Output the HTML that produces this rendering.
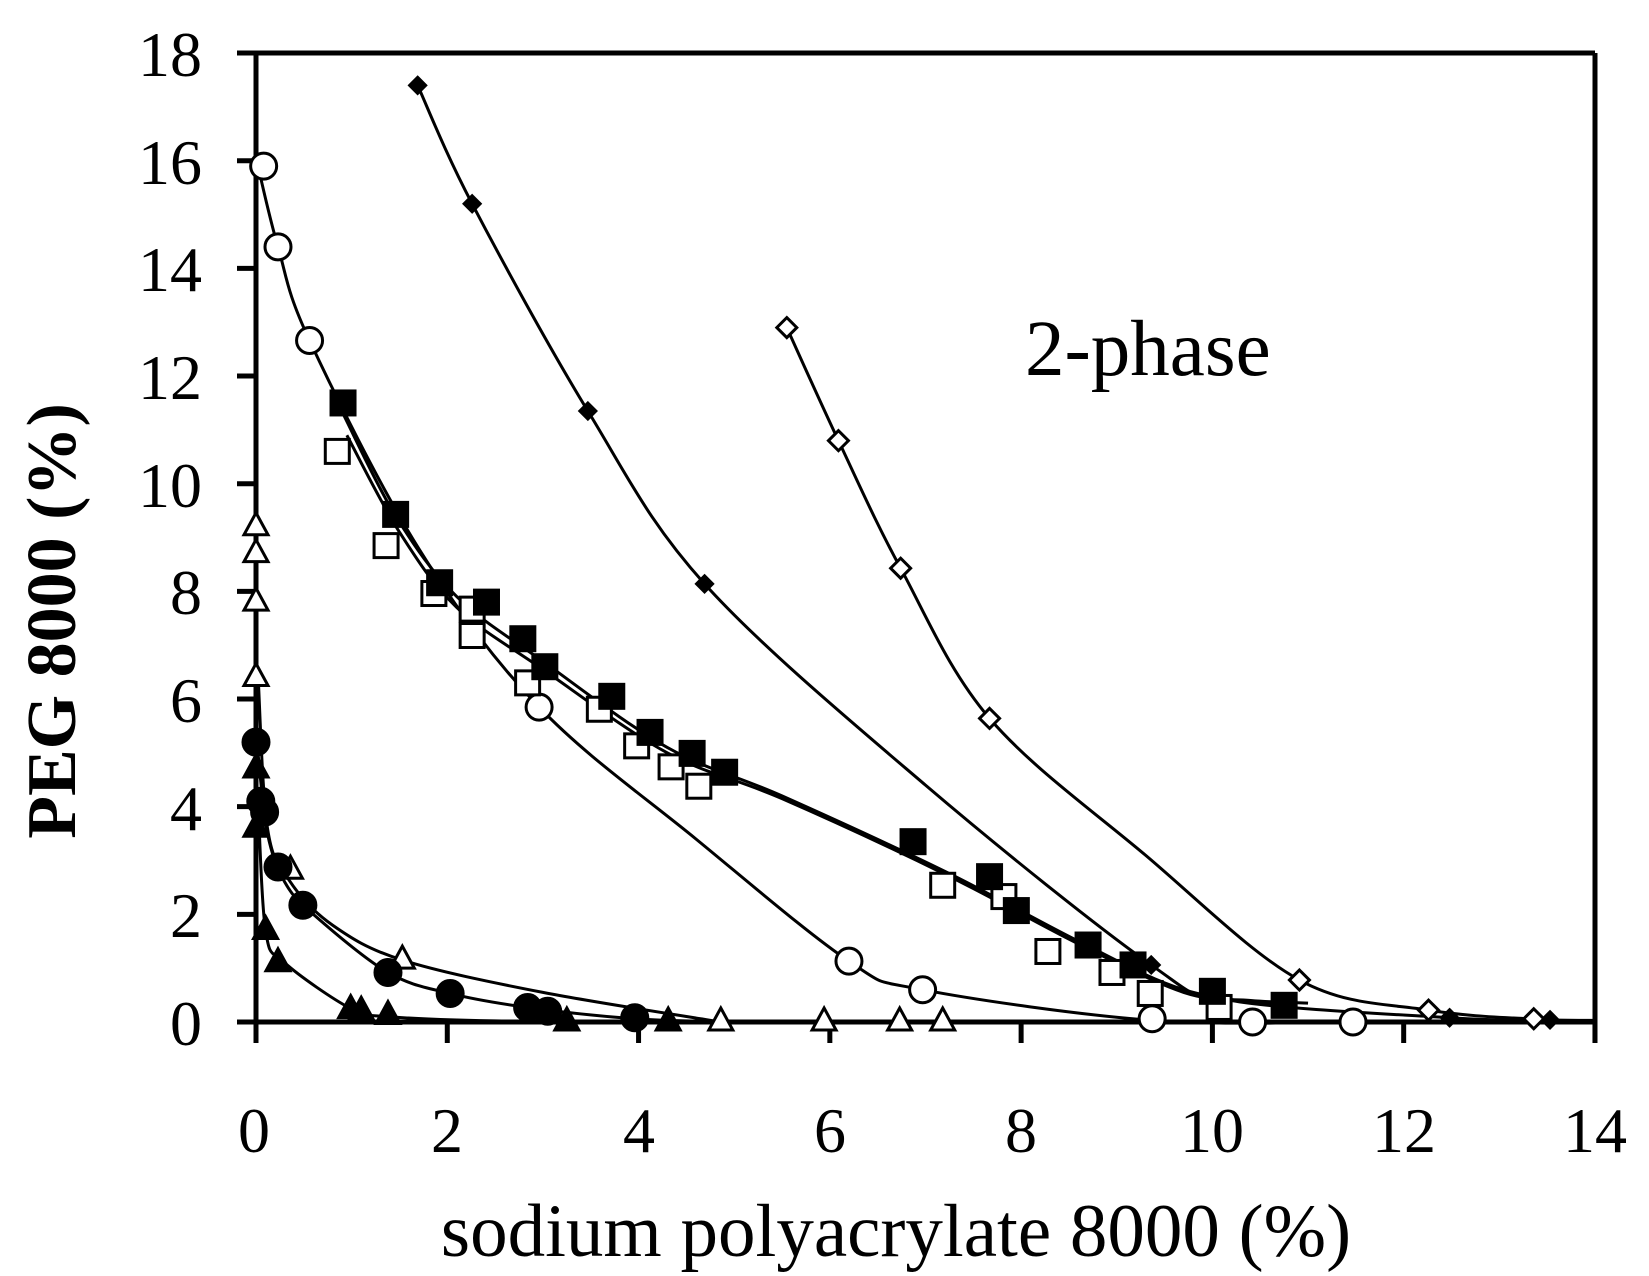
<!DOCTYPE html>
<html><head><meta charset="utf-8"><style>
html,body{margin:0;padding:0;background:#fff;}
svg{display:block;font-family:"Liberation Serif",serif;}
</style></head><body>
<svg id="s" width="1649" height="1276" viewBox="0 0 1649 1276" xmlns="http://www.w3.org/2000/svg">
<rect x="0" y="0" width="1649" height="1276" fill="#fff"/>
<g font-size="64" fill="#000" text-anchor="end">
<text x="202" y="76">18</text>
<text x="202" y="184">16</text>
<text x="202" y="291">14</text>
<text x="202" y="399">12</text>
<text x="202" y="507">10</text>
<text x="202" y="614">8</text>
<text x="202" y="722">6</text>
<text x="202" y="830">4</text>
<text x="202" y="937">2</text>
<text x="202" y="1045">0</text>
</g>
<g font-size="64" fill="#000" text-anchor="middle">
<text x="254" y="1152">0</text>
<text x="447" y="1152">2</text>
<text x="639" y="1152">4</text>
<text x="830" y="1152">6</text>
<text x="1021" y="1152">8</text>
<text x="1212" y="1152">10</text>
<text x="1404" y="1152">12</text>
<text x="1595" y="1152">14</text>
</g>
<text x="896" y="1256" font-size="75" text-anchor="middle">sodium polyacrylate 8000 (%)</text>
<text transform="translate(75,621) rotate(-90)" font-size="70" font-weight="bold" text-anchor="middle">PEG 8000 (%)</text>
<text x="1025" y="375" font-size="79">2-phase</text>
<g id="ax" stroke="#000" stroke-width="5" fill="none"></g>
<g id="cv" stroke="#000" stroke-width="3" fill="none"></g>
<g id="mk" stroke="#000" stroke-width="3"></g>
</svg>
<script>
var NS="http://www.w3.org/2000/svg";
function X(x){return 256+95.64*x;}function Y(y){return 1022-53.83*y;}
function el(p,t,a){var e=document.createElementNS(NS,t);for(var k in a)e.setAttribute(k,a[k]);document.getElementById(p).appendChild(e);return e;}
var ax=[[256,53,1595,53],[256,53,256,1022],[1595,53,1595,1043],[256,1022,1595,1022]];
ax.forEach(function(a){el('ax','line',{x1:a[0],y1:a[1],x2:a[2],y2:a[3]});});
for(var i=0;i<=9;i++){el('ax','line',{x1:237,y1:Y(2*i),x2:256,y2:Y(2*i)});}
for(var i=0;i<=7;i++){el('ax','line',{x1:X(2*i),y1:1022,x2:X(2*i),y2:1043});}
function curve(pts){var p=pts.map(function(q){return [X(q[0]),Y(q[1])];});var d="M"+p[0][0]+","+p[0][1];
for(var i=0;i<p.length-1;i++){var p0=p[i-1]||p[i],p1=p[i],p2=p[i+1],p3=p[i+2]||p2;
var c1=[p1[0]+(p2[0]-p0[0])/6,p1[1]+(p2[1]-p0[1])/6],c2=[p2[0]-(p3[0]-p1[0])/6,p2[1]-(p3[1]-p1[1])/6];
d+=" C"+c1+" "+c2+" "+p2;}el('cv','path',{d:d});}
function mark(type,pts,fill){pts.forEach(function(q){var x=X(q[0]),y=Y(q[1]);var f=fill?"#000":"#fff";
if(type=='c')el('mk','circle',{cx:x,cy:y,r:13,fill:f});
else if(type=='s')el('mk','rect',{x:x-12,y:y-12,width:24,height:24,fill:f});
else if(type=='d'){var r=fill?8:10;el('mk','polygon',{points:[x,y-r,x+r,y,x,y+r,x-r,y].join(" "),fill:f});}
else if(type=='t')el('mk','polygon',{points:[x,y-14,x+12,y+8,x-12,y+8].join(" "),fill:f});});}
var fd=[[1.69,17.4],[2.26,15.2],[3.47,11.35],[4.69,8.14],[9.36,1.06],[12.48,0.08],[13.53,0.04]];
var od=[[5.55,12.9],[6.09,10.8],[6.74,8.43],[7.67,5.64],[10.91,0.78],[12.26,0.22],[13.36,0.06]];
var oc=[[0.08,15.9],[0.23,14.4],[0.56,12.66],[2.96,5.85],[6.2,1.13],[6.97,0.6],[9.37,0.06],[10.42,0],[11.47,0]];
var fs=[[0.91,11.5],[1.46,9.43],[1.92,8.16],[2.41,7.8],[2.79,7.12],[3.02,6.6],[3.72,6.05],[4.12,5.38],[4.56,4.99],[4.9,4.64],[6.87,3.35],[7.67,2.7],[7.95,2.07],[8.7,1.43],[9.17,1.06],[10.0,0.57],[10.75,0.31]];
var os=[[0.85,10.6],[1.36,8.85],[1.86,7.96],[2.26,7.67],[2.26,7.18],[2.84,6.3],[3.59,5.81],[3.98,5.13],[4.34,4.74],[4.63,4.38],[7.18,2.54],[7.82,2.33],[8.28,1.31],[8.95,0.92],[9.35,0.53],[10.07,0.27]];
var ot=[[0,9.2],[0,8.7],[0,7.8],[0,6.4],[0.36,2.82],[1.53,1.15],[4.86,0],[5.94,0],[6.73,0],[7.18,0]];
var fc=[[0,5.2],[0.05,4.1],[0.09,3.9],[0.23,2.88],[0.49,2.17],[1.38,0.92],[2.03,0.53],[2.84,0.27],[3.05,0.2],[3.96,0.08]];
var ft=[[0,4.7],[0,3.6],[0.1,1.7],[0.23,1.1],[0.99,0.23],[1.1,0.2],[1.38,0.12],[3.25,0],[4.31,0]];
curve([[1.69,17.4],[2.26,15.2],[3.47,11.35],[4.69,8.14],[7,4.4],[9.36,1.06],[10.2,0.4],[12.48,0.08],[13.55,0.03]]);
curve([[5.55,12.9],[6.09,10.8],[6.74,8.43],[7.67,5.64],[9.3,3.1],[10.91,0.78],[12.26,0.22],[13.4,0.05],[14,0.03]]);
curve([[0.02,15.9],[0.23,14.4],[0.56,12.66],[1.7,8.8],[2.96,5.85],[4.6,3.4],[6.2,1.13],[6.97,0.6],[9.37,0.03],[11.5,0]]);
curve([[0.91,11.3],[1.46,9.4],[2.1,7.9],[3.0,6.7],[4.3,5.1],[5.5,4.2],[7.2,2.8],[8.6,1.5],[9.7,0.6],[10.75,0.3]]);
curve([[0.95,10.9],[1.5,9.1],[2.1,7.7],[3.0,6.55],[4.3,5.0],[5.5,4.15],[7.2,2.75],[8.6,1.45],[9.7,0.55],[10.4,0.4],[11,0.35]]);
curve([[0.02,6.5],[0.12,3.6],[0.36,2.6],[0.8,1.8],[1.53,1.15],[3,0.55],[4.86,0]]);
curve([[0.02,5.0],[0.12,3.5],[0.3,2.6],[0.6,2.0],[1.38,0.92],[2.03,0.53],[2.84,0.27],[3.96,0.06],[4.8,0.01]]);
curve([[0.02,4.2],[0.1,1.7],[0.3,1.1],[0.99,0.25],[1.38,0.1],[2.5,0.02],[4.31,0]]);
mark('d',fd,true);mark('d',od,false);mark('c',oc,false);mark('s',os,false);mark('s',fs,true);
mark('t',ot,false);mark('c',fc,true);mark('t',ft,true);
</script>
</body></html>
